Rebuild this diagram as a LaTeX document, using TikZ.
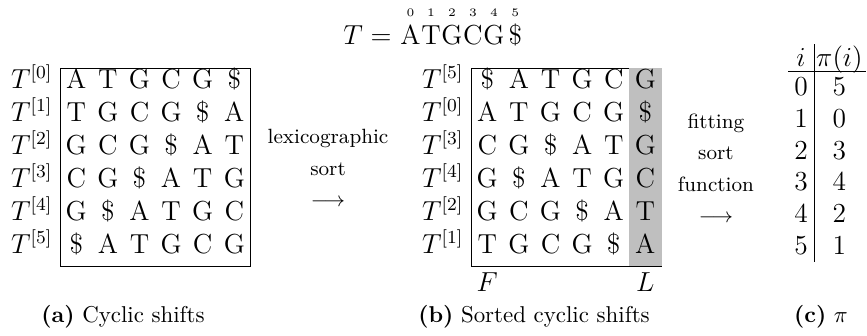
\documentclass[tikz,border=0pt]{standalone}
\usepackage{tikz}
\usetikzlibrary{matrix,backgrounds,positioning}

\begin{document}
\begin{tikzpicture}[
shiftarray/.style={matrix of nodes,nodes={font=\large, minimum width=13.8pt, minimum height=14.4pt,
    inner sep=0pt, text height=8.8pt, text depth=5.6pt, anchor=center},
  column sep=0pt, row sep=0pt,
  column 1/.style={nodes={minimum width=0pt, inner xsep=3.5pt}}},
wordarray/.style={matrix of nodes,nodes={font=\large, inner sep=0pt, anchor=base},
  column sep=0.3pt, row sep={12.2pt,between origins},
  row 1/.style={nodes={font=\tiny}},
  column 6/.style={nodes={inner xsep=1.5pt}}},
pitable/.style={matrix of math nodes,nodes={font=\large, minimum height=13.9pt, inner sep=0pt,
    text height=7.8pt, text depth=0pt, anchor=center},
  row 1/.style={nodes={text height=10.4pt}},
  column 1/.style={nodes={minimum width=10.9pt}},
  column 2/.style={nodes={minimum width=22.6pt}}},
steplabel/.style={font=\small, align=center}]
\useasboundingbox (0,0) rectangle (13.30,5.14);

% the text with its positions
\matrix[wordarray, matrix anchor=word-2-1.base west] (word) at (6.136,4.464) {
0 & 1 & 2 & 3 & 4 & 5\\
A & T & G & C & G & \$\\};
\node[font=\large, inner sep=0pt, base left=3.5pt of word-2-1] (teq) {$T=$};

% cyclic shifts
\matrix[shiftarray, matrix anchor=cyc-1-2.north west] (cyc) at (0.920,4.096) {
$T^{[0]}$ & A & T & G & C & G & \$\\
$T^{[1]}$ & T & G & C & G & \$ & A\\
$T^{[2]}$ & G & C & G & \$ & A & T\\
$T^{[3]}$ & C & G & \$ & A & T & G\\
$T^{[4]}$ & G & \$ & A & T & G & C\\
$T^{[5]}$ & \$ & A & T & G & C & G\\};
\draw (cyc-1-2.north west) rectangle (cyc-6-7.south east);

\node[steplabel] (lexsort) at (5.032,2.562) {lexicographic\\[2.7pt]sort\\[2.7pt]$\longrightarrow$};

% sorted cyclic shifts
\matrix[shiftarray, matrix anchor=srt-1-2.north west] (srt) at (7.225,4.096) {
$T^{[5]}$ & \$ & A & T & G & C & G\\
$T^{[0]}$ & A & T & G & C & G & \$\\
$T^{[3]}$ & C & G & \$ & A & T & G\\
$T^{[4]}$ & G & \$ & A & T & G & C\\
$T^{[2]}$ & G & C & G & \$ & A & T\\
$T^{[1]}$ & T & G & C & G & \$ & A\\};
\begin{scope}[on background layer]
\fill[black!25] (srt-1-7.north west) rectangle (srt-6-7.south east);
\end{scope}
\draw (srt-1-7.north west) -- (srt-1-2.north west) -- (srt-6-2.south west) -- (srt-6-7.south east);
\node[font=\large, below=-1pt of srt-6-2] (first) {$F$};
\node[font=\large, below=-1pt of srt-6-7] (last) {$L$};

\node[steplabel] (fitsort) at (10.983,2.562) {fitting\\[2.7pt]sort\\[2.7pt]function\\[2.7pt]$\longrightarrow$};

% the permutation
\matrix[pitable, matrix anchor=pi-1-1.south east] (pi) at (12.487,4.050) {
i & \pi(i)\\
0 & 5\\
1 & 0\\
2 & 3\\
3 & 4\\
4 & 2\\
5 & 1\\};
\draw ([yshift=-2.6pt]pi-1-1.north east) -- (pi-7-1.south east);
\draw (pi-1-1.south west) -- (pi-1-2.south east);

% captions
\node[anchor=base] (capa) at (1.887,0.199) {\textbf{(a)} Cyclic shifts};
\node[anchor=base] (capb) at (8.192,0.199) {\textbf{(b)} Sorted cyclic shifts};
\node[anchor=base] (capc) at (12.594,0.199) {\textbf{(c)} $\pi$};
\end{tikzpicture}
\end{document}
